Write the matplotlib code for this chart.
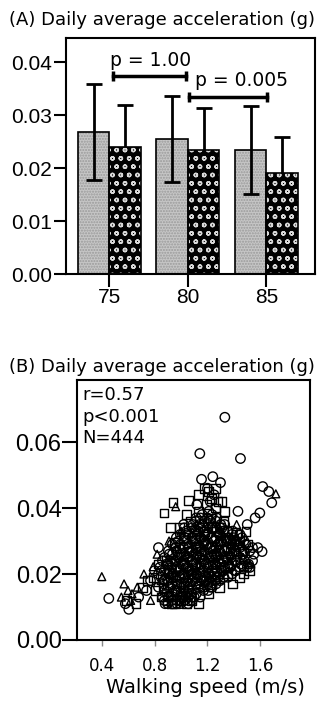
import numpy as np
import matplotlib.pyplot as plt

# panel A data
groups = ['75', '80', '85']
gray_mean = [0.0268, 0.0255, 0.0234]
gray_sd = [0.0090, 0.0081, 0.0083]
black_mean = [0.0240, 0.0234, 0.0191]
black_sd = [0.0079, 0.0079, 0.0068]
# bracket: x start, x end, y, label, label x
brackets = [(0.05, 0.98, 0.0373, 'p = 1.00', 0.52), (1.02, 2.01, 0.0335, 'p = 0.005', 1.68)]

# panel B data (walking speed m/s, acceleration g)
circles = [
    (1.331, 0.0675), (1.142, 0.0565), (1.449, 0.0550), (1.617, 0.0465), (1.663, 0.0450),
    (1.685, 0.0416), (0.455, 0.0126), (0.606, 0.0093), (1.240, 0.0495), (1.298, 0.0477),
    (1.155, 0.0487), (1.595, 0.0385), (1.560, 0.0370), (1.612, 0.0268), (0.830, 0.0280),
    (1.200, 0.0460), (1.250, 0.0440), (1.220, 0.0420), (1.430, 0.0390), (1.500, 0.0350),
    (1.120, 0.0410), (1.020, 0.0350), (0.680, 0.0130), (0.740, 0.0150), (0.770, 0.0180),
    (0.800, 0.0210), (0.580, 0.0110), (1.580, 0.0280), (1.540, 0.0240), (1.520, 0.0220),
    (0.83, 0.016), (0.85, 0.019), (0.84, 0.022), (0.86, 0.013), (0.87, 0.017), (0.85, 0.021),
    (0.83, 0.020), (0.88, 0.011), (0.86, 0.024),
    (0.89, 0.014), (0.90, 0.018), (0.91, 0.021), (0.92, 0.024), (0.93, 0.012), (0.90, 0.011),
    (0.92, 0.016), (0.94, 0.019), (0.91, 0.026), (0.93, 0.022), (0.89, 0.023), (0.94, 0.013),
    (0.95, 0.015), (0.96, 0.019), (0.97, 0.022), (0.98, 0.025), (0.99, 0.012), (0.97, 0.011),
    (0.96, 0.028), (1.00, 0.017), (0.99, 0.021), (0.98, 0.030), (0.95, 0.024), (1.00, 0.014),
    (0.97, 0.017), (0.99, 0.026),
    (1.01, 0.013), (1.02, 0.016), (1.03, 0.019), (1.04, 0.022), (1.05, 0.025), (1.02, 0.028),
    (1.03, 0.031), (1.06, 0.015), (1.01, 0.020), (1.04, 0.018), (1.05, 0.029), (1.06, 0.021),
    (1.02, 0.024), (1.03, 0.012), (1.04, 0.033), (1.05, 0.014),
    (1.07, 0.017), (1.08, 0.020), (1.09, 0.023), (1.10, 0.026), (1.11, 0.029), (1.12, 0.032),
    (1.08, 0.014), (1.09, 0.035), (1.10, 0.019), (1.11, 0.022), (1.07, 0.027), (1.12, 0.025),
    (1.09, 0.030), (1.10, 0.013), (1.11, 0.036), (1.08, 0.024), (1.12, 0.018),
    (1.13, 0.016), (1.14, 0.020), (1.15, 0.023), (1.16, 0.026), (1.17, 0.029), (1.18, 0.032),
    (1.14, 0.035), (1.15, 0.018), (1.16, 0.021), (1.13, 0.028), (1.17, 0.024), (1.18, 0.019),
    (1.15, 0.031), (1.16, 0.038), (1.14, 0.025), (1.17, 0.015), (1.13, 0.033),
    (1.19, 0.018), (1.20, 0.022), (1.21, 0.025), (1.22, 0.028), (1.23, 0.031), (1.24, 0.034),
    (1.20, 0.037), (1.21, 0.020), (1.22, 0.016), (1.23, 0.024), (1.19, 0.029), (1.24, 0.027),
    (1.20, 0.032), (1.22, 0.036), (1.23, 0.019), (1.21, 0.039), (1.19, 0.023),
    (1.25, 0.020), (1.26, 0.023), (1.27, 0.026), (1.28, 0.029), (1.29, 0.032), (1.30, 0.035),
    (1.26, 0.018), (1.27, 0.021), (1.28, 0.024), (1.25, 0.030), (1.29, 0.027), (1.30, 0.022),
    (1.26, 0.034), (1.27, 0.037), (1.28, 0.019), (1.25, 0.026),
    (1.31, 0.021), (1.32, 0.024), (1.33, 0.027), (1.34, 0.030), (1.35, 0.033), (1.32, 0.019),
    (1.33, 0.022), (1.34, 0.025), (1.35, 0.028), (1.36, 0.031), (1.31, 0.034), (1.36, 0.023),
    (1.33, 0.035),
    (1.37, 0.022), (1.38, 0.025), (1.39, 0.028), (1.40, 0.031), (1.41, 0.021), (1.42, 0.026),
    (1.43, 0.029), (1.39, 0.033), (1.41, 0.024), (1.38, 0.030),
    (1.45, 0.023), (1.47, 0.026), (1.49, 0.029), (1.46, 0.031), (1.50, 0.022), (1.48, 0.024),
    (1.52, 0.027), (1.51, 0.023), (1.54, 0.028), (1.55, 0.026),
    (0.875, 0.012), (0.875, 0.015), (0.875, 0.018), (0.875, 0.021), (0.875, 0.025),
    (0.905, 0.013), (0.905, 0.016), (0.905, 0.020), (0.905, 0.023), (0.905, 0.027),
    (0.935, 0.011), (0.935, 0.014), (0.935, 0.017), (0.935, 0.020), (0.935, 0.023),
    (0.935, 0.026), (0.935, 0.029),
    (0.965, 0.012), (0.965, 0.015), (0.965, 0.018), (0.965, 0.021), (0.965, 0.024),
    (0.965, 0.027), (0.965, 0.031),
    (0.995, 0.011), (0.995, 0.013), (0.995, 0.016), (0.995, 0.019), (0.995, 0.022),
    (0.995, 0.025), (0.995, 0.029), (0.995, 0.032),
    (1.025, 0.012), (1.025, 0.015), (1.025, 0.017), (1.025, 0.020), (1.025, 0.023),
    (1.025, 0.026), (1.025, 0.030), (1.025, 0.034),
    (1.055, 0.011), (1.055, 0.013), (1.055, 0.016), (1.055, 0.019), (1.055, 0.022),
    (1.055, 0.025), (1.055, 0.028), (1.055, 0.032),
    (1.085, 0.012), (1.085, 0.015), (1.085, 0.018), (1.085, 0.021), (1.085, 0.024),
    (1.085, 0.027), (1.085, 0.031), (1.085, 0.034),
    (1.115, 0.014), (1.115, 0.017), (1.115, 0.020), (1.115, 0.023), (1.115, 0.026),
    (1.115, 0.030), (1.115, 0.033), (1.115, 0.037),
    (1.145, 0.013), (1.145, 0.017), (1.145, 0.019), (1.145, 0.022), (1.145, 0.025),
    (1.145, 0.028), (1.145, 0.031), (1.145, 0.034), (1.145, 0.037),
    (1.175, 0.016), (1.175, 0.018), (1.175, 0.021), (1.175, 0.024), (1.175, 0.027),
    (1.175, 0.030), (1.175, 0.033), (1.175, 0.036),
    (1.205, 0.015), (1.205, 0.017), (1.205, 0.020), (1.205, 0.023), (1.205, 0.026),
    (1.205, 0.029), (1.205, 0.032), (1.205, 0.035),
    (1.235, 0.016), (1.235, 0.018), (1.235, 0.021), (1.235, 0.025), (1.235, 0.028),
    (1.235, 0.031), (1.235, 0.034), (1.235, 0.038),
    (1.265, 0.017), (1.265, 0.019), (1.265, 0.022), (1.265, 0.025), (1.265, 0.028),
    (1.265, 0.031), (1.265, 0.033), (1.265, 0.036),
    (1.295, 0.018), (1.295, 0.020), (1.295, 0.023), (1.295, 0.026), (1.295, 0.029),
    (1.295, 0.032), (1.295, 0.034),
    (1.325, 0.019), (1.325, 0.021), (1.325, 0.024), (1.325, 0.027), (1.325, 0.030),
    (1.325, 0.033),
    (1.355, 0.019), (1.355, 0.022), (1.355, 0.025), (1.355, 0.028), (1.355, 0.030),
    (1.355, 0.033),
    (1.385, 0.020), (1.385, 0.023), (1.385, 0.026), (1.385, 0.029), (1.385, 0.032),
    (1.415, 0.021), (1.415, 0.024), (1.415, 0.027), (1.415, 0.030),
    (1.445, 0.022), (1.445, 0.025), (1.445, 0.028), (1.445, 0.032),
    (1.475, 0.022), (1.475, 0.027), (1.475, 0.030),
]
squares = [
    (0.872, 0.0385), (0.940, 0.0416), (1.054, 0.0423), (1.180, 0.0460), (1.210, 0.0450),
    (1.280, 0.0420), (1.310, 0.0420), (1.260, 0.0400), (0.920, 0.0340), (0.950, 0.0295),
    (0.750, 0.0180), (0.660, 0.0110), (0.590, 0.0120), (0.710, 0.0160), (0.790, 0.0190),
    (0.890, 0.0240), (0.990, 0.0280), (1.020, 0.0310), (1.070, 0.0360), (1.130, 0.0390),
    (1.220, 0.0370), (1.320, 0.0360), (1.420, 0.0320), (1.490, 0.0330), (1.440, 0.0300),
    (1.520, 0.0210), (1.350, 0.0200), (1.390, 0.0170), (1.070, 0.0130), (0.930, 0.0110),
    (0.970, 0.0150), (1.150, 0.0270), (1.240, 0.0230), (1.300, 0.0300), (1.050, 0.0200),
    (0.870, 0.0160), (1.370, 0.0270), (1.180, 0.0330), (1.100, 0.0310), (0.850, 0.0130),
    (0.900, 0.0120), (0.950, 0.0110), (1.000, 0.0120), (1.040, 0.0110), (1.080, 0.0120),
    (0.920, 0.0190), (0.970, 0.0260), (1.010, 0.0230), (1.060, 0.0270), (1.110, 0.0280),
    (1.160, 0.0340), (1.190, 0.0410), (1.230, 0.0430), (1.270, 0.0330), (1.340, 0.0310),
    (1.400, 0.0290), (1.460, 0.0270), (1.500, 0.0290), (1.440, 0.0190), (1.470, 0.0200),
    (1.290, 0.0160), (1.210, 0.0140), (1.130, 0.0110), (0.810, 0.0150), (0.830, 0.0230),
    (1.130, 0.0440), (1.260, 0.0460), (1.330, 0.0390), (0.990, 0.0340), (1.040, 0.0380),
]
triangles = [
    (0.402, 0.0192), (1.716, 0.0443), (0.960, 0.0404), (0.790, 0.0222), (0.570, 0.0170),
    (0.550, 0.0130), (0.600, 0.0150), (0.630, 0.0140), (0.670, 0.0160), (0.720, 0.0200),
    (0.620, 0.0120), (0.820, 0.0260), (0.910, 0.0300), (1.000, 0.0330), (1.090, 0.0340),
    (1.170, 0.0300), (1.270, 0.0280), (1.370, 0.0240), (1.470, 0.0250), (1.520, 0.0230),
    (1.040, 0.0260), (0.920, 0.0200), (1.120, 0.0210), (1.220, 0.0190), (1.320, 0.0260),
    (0.850, 0.0180), (1.420, 0.0350), (0.770, 0.0120),
]

arial = 'Liberation Sans'
fig = plt.figure(figsize=(3.19, 7.1), dpi=100)

# ---- (A) bar chart
ax1 = fig.add_axes([0.207, 0.614, 0.781, 0.332])
x = np.arange(len(groups))
w = 0.4
ax1.bar(x - w / 2, gray_mean, w, color='#c6c6c6', edgecolor='#9a9a9a', hatch='......', lw=0, zorder=2)
ax1.bar(x - w / 2, gray_mean, w, fill=False, edgecolor='black', lw=1.2, zorder=3)
ax1.bar(x + w / 2, black_mean, w, color='black', edgecolor='#d8d8d8', hatch='oo', lw=0, zorder=2)
ax1.bar(x + w / 2, black_mean, w, fill=False, edgecolor='black', lw=1.2, zorder=3)
ax1.errorbar(x - w / 2, gray_mean, yerr=gray_sd, fmt='none', ecolor='black', elinewidth=2,
             capsize=6, capthick=2, zorder=4)
ax1.errorbar(x + w / 2, black_mean, yerr=black_sd, fmt='none', ecolor='black', elinewidth=2,
             capsize=6, capthick=2, zorder=1)
for x0, x1, yb, label, xt in brackets:
    ax1.plot([x0, x1], [yb, yb], color='black', lw=2.5, marker='|', ms=7, mew=2.5)
    ax1.text(xt, yb + 0.0012, label, ha='center', va='bottom', fontsize=13.5)
ax1.set_xlim(-0.55, 2.62)
ax1.set_ylim(0, 0.0445)
ax1.set_xticks(x)
ax1.set_xticklabels(groups, fontsize=15, family=arial)
ax1.set_yticks([0, 0.01, 0.02, 0.03, 0.04])
ax1.set_yticklabels(['0.00', '0.01', '0.02', '0.03', '0.04'], fontsize=15, family=arial)
ax1.tick_params(axis='both', direction='out', length=9, width=1.5, pad=1)
for s in ax1.spines.values():
    s.set_linewidth(1.5)
fig.text(0.988, 0.972, '(A) Daily average acceleration (g)', ha='right', va='center', fontsize=13)

# ---- (B) scatter
ax2 = fig.add_axes([0.241, 0.0986, 0.730, 0.3662])
cx, cy = zip(*circles)
sx, sy = zip(*squares)
tx, ty = zip(*triangles)
ax2.scatter(sx, sy, s=40, marker='s', facecolors='none', edgecolors='black', linewidths=1.0)
ax2.scatter(tx, ty, s=32, marker='^', facecolors='none', edgecolors='black', linewidths=1.0)
ax2.scatter(cx, cy, s=46, marker='o', facecolors='none', edgecolors='black', linewidths=1.0)
ax2.text(0.025, 0.975, 'r=0.57\np<0.001\nN=444', transform=ax2.transAxes, ha='left', va='top',
         fontsize=13, linespacing=1.25)
ax2.set_xlim(0.214, 1.972)
ax2.set_ylim(0, 0.0788)
ax2.set_xticks([0.4, 0.8, 1.2, 1.6])
ax2.set_xticklabels(['0.4', '0.8', '1.2', '1.6'], fontsize=12)
ax2.set_yticks([0, 0.02, 0.04, 0.06])
ax2.set_yticklabels(['0.00', '0.02', '0.04', '0.06'], fontsize=17, family=arial)
ax2.tick_params(axis='y', direction='out', length=11, width=1.5, pad=0)
ax2.tick_params(axis='x', direction='out', length=4, width=1, color='#888888', pad=8)
for s in ax2.spines.values():
    s.set_linewidth(1.5)
fig.text(0.988, 0.483, '(B) Daily average acceleration (g)', ha='right', va='center', fontsize=13)
fig.text(0.956, 0.032, 'Walking speed (m/s)', ha='right', va='center', fontsize=14)

fig.savefig('out.png', dpi=100)
